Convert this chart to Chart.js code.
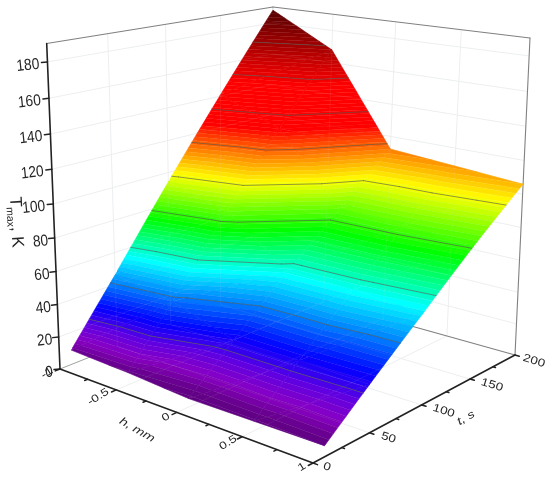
<!DOCTYPE html>
<html><head><meta charset="utf-8">
<style>html,body{margin:0;padding:0;background:#fff}canvas{display:block}</style>
<script src="https://cdn.jsdelivr.net/npm/chart.js@4"></script></head>
<body><canvas id="c" width="550" height="478"></canvas>
<script>
// ---- data ----
const hValues = [-1, -0.5, 0, 0.5, 1];
const tValues = [10, 50, 100, 150, 200];
const tempAtT10  = [9, 7.5, 5, 5.5, 6];
const tempAtT50  = [46, 40, 28, 28, 27];
const tempAtT100 = [94, 84, 57, 56, 53];
const tempAtT150 = [141, 126, 84, 83, 80];
const tempAtT200 = [188, 168, 112, 109, 106];
const tempRows = [tempAtT10, tempAtT50, tempAtT100, tempAtT150, tempAtT200];
const contourLevels = [24, 42, 60, 79, 97, 115, 133, 152, 170];
const zTicks = [0, 20, 40, 60, 80, 100, 120, 140, 160, 180];
const hMajor = [-1, -0.5, 0, 0.5, 1];
const hMinor = [-0.75, -0.25, 0.25, 0.75];
const tMajor = [0, 50, 100, 150, 200];
const tMinor = [25, 75, 125, 175];
const zMax = 190;
const colorStops = [[0,'#560078'],[8,'#640088'],[14,'#8800c4'],[21,'#6000e0'],[30,'#0000ff'],[42,'#0080ff'],[55,'#00ffff'],[75,'#00ff00'],[98,'#ffff00'],[125,'#ff0000'],[148,'#ff0000'],[170,'#a00000'],[190,'#4a0000']];
const bandStep = 2;

// ---- 3D projection ----
function homography(A,B,C,D){
  const dx1=B[0]-C[0],dx2=D[0]-C[0],sx=A[0]-B[0]+C[0]-D[0];
  const dy1=B[1]-C[1],dy2=D[1]-C[1],sy=A[1]-B[1]+C[1]-D[1];
  const det=dx1*dy2-dx2*dy1;
  const g=(sx*dy2-dx2*sy)/det,h=(dx1*sy-sx*dy1)/det;
  const a=B[0]-A[0]+g*B[0],b=D[0]-A[0]+h*D[0],d=B[1]-A[1]+g*B[1],e=D[1]-A[1]+h*D[1];
  return (u,v)=>{const q=1+g*u+h*v;return [(A[0]+a*u+b*v)/q,(A[1]+d*u+e*v)/q];};
}
const floorMap = homography([60,369],[313,463],[515,355],[268,286]);
const topMap   = homography([46.7,43.5],[310,82],[530,38],[273,7]);
function project(h,t,z){
  const u=(h+1)/2,v=t/200,w=z/zMax,s=w/(1+0.08*(1-w));
  const f=floorMap(u,v),p=topMap(u,v);
  return {x:f[0]+(p[0]-f[0])*s,y:f[1]+(p[1]-f[1])*s};
}
function hex(c){return [1,3,5].map(i=>parseInt(c.substr(i,2),16));}
function colorAt(T){
  for(let i=1;i<colorStops.length;i++){
    if(T<=colorStops[i][0]){
      const [a,ca]=colorStops[i-1],[b,cb]=colorStops[i],f=(T-a)/(b-a),x=hex(ca),y=hex(cb);
      return `rgb(${x.map((q,k)=>Math.round(q+(y[k]-q)*f)).join(',')})`;
    }
  }
  return colorStops[colorStops.length-1][1];
}
const datasets=[];
function addLine(points,color,width,order){
  datasets.push({data:points,showLine:true,borderColor:color,borderWidth:width,pointRadius:0,fill:false,tension:0,order,clip:false,borderCapStyle:'round',borderJoinStyle:'round'});
}
function addPoly(points,color,order){
  datasets.push({data:points,showLine:true,borderColor:color,backgroundColor:color,borderWidth:0.6,pointRadius:0,fill:'shape',tension:0,order,clip:false});
}
// surface triangles
const tris=[];
for(let j=0;j<tValues.length-1;j++)for(let i=0;i<hValues.length-1;i++){
  const n=(a,b)=>[hValues[a],tValues[b],tempRows[b][a]];
  const a=n(i,j),b=n(i+1,j),c=n(i+1,j+1),d=n(i,j+1);
  tris.push([a,b,c],[a,c,d]);
}
function clip(poly,level,keepAbove){
  const out=[];
  for(let i=0;i<poly.length;i++){
    const p=poly[i],q=poly[(i+1)%poly.length];
    const pin=keepAbove?p[2]>=level:p[2]<=level,qin=keepAbove?q[2]>=level:q[2]<=level;
    if(pin)out.push(p);
    if(pin!==qin){const f=(level-p[2])/(q[2]-p[2]);out.push([p[0]+(q[0]-p[0])*f,p[1]+(q[1]-p[1])*f,level]);}
  }
  return out;
}
tris.forEach(tr=>{
  const lo=Math.min(tr[0][2],tr[1][2],tr[2][2]),hi=Math.max(tr[0][2],tr[1][2],tr[2][2]);
  for(let b=Math.floor(lo/bandStep);b*bandStep<hi;b++){
    const a0=b*bandStep,a1=a0+bandStep;
    let poly=clip(clip(tr,a0,true),a1,false);
    if(poly.length>=3)addPoly(poly.map(p=>project(p[0],p[1],p[2])),colorAt(a0+bandStep/2),5);
  }
  contourLevels.forEach(L=>{
    const seg=[];
    for(let i=0;i<3;i++){
      const p=tr[i],q=tr[(i+1)%3];
      if((p[2]-L)*(q[2]-L)<0){const f=(L-p[2])/(q[2]-p[2]);seg.push(project(p[0]+(q[0]-p[0])*f,p[1]+(q[1]-p[1])*f,L));}
    }
    if(seg.length===2)addLine(seg,'rgba(80,90,80,0.7)',0.9,1);
  });
});
// grids: behind the surface and faintly through it
const gridC='#eff1f3', overC='rgba(215,215,215,0.09)';
function grid(a,b){addLine([project(...a),project(...b)],gridC,1,8);addLine([project(...a),project(...b)],overC,1,2);}
zTicks.slice(1).forEach(z=>{grid([-1,200,z],[1,200,z]);grid([-1,0,z],[-1,200,z]);});
hMajor.slice(1,4).forEach(h=>{grid([h,200,0],[h,200,zMax]);grid([h,0,0],[h,200,0]);});
tMajor.slice(1,4).forEach(t=>{grid([-1,t,0],[-1,t,zMax]);grid([-1,t,0],[1,t,0]);});
// box
const boxGray='#808080';
[[[-1,0,zMax],[-1,200,zMax]],[[-1,200,zMax],[1,200,zMax]],[[1,200,zMax],[1,200,0]],[[1,200,0],[-1,200,0]]]
  .forEach(e=>addLine([project(...e[0]),project(...e[1])],boxGray,1.1,7));
addLine([project(-1,200,0),project(-1,0,0)],'#9aa59a',1,7);
addLine([project(-1,200,0),project(-1,200,zMax)],'#ccd4da',1,7);
// axes
const axisC='#222';
addLine([project(-1,0,0),project(-1,0,zMax)],axisC,1.6,0);
addLine([project(-1,0,0),project(1,0,0)],axisC,1.6,0);
addLine([project(1,0,0),project(1,200,0)],axisC,1.6,0);
zTicks.forEach(z=>{const p=project(-1,0,z);addLine([p,{x:p.x-6,y:p.y+0.6}],axisC,1.5,0);});
hMajor.forEach(h=>addLine([project(h,0,0),project(h,-4,0)],axisC,1.5,0));
hMinor.forEach(h=>addLine([project(h,0,0),project(h,-2.5,0)],axisC,1.5,0));
tMajor.forEach(t=>addLine([project(1,t,0),project(1.03,t,0)],axisC,1.5,0));
tMinor.forEach(t=>addLine([project(1,t,0),project(1.018,t,0)],axisC,1.5,0));

function text(ctx,s,x,y,deg,font,sx,sy){
  ctx.save();ctx.translate(x,y);ctx.rotate(deg*Math.PI/180);ctx.scale(sx||1,sy||1);
  ctx.font=font;ctx.fillStyle='#262626';ctx.textAlign='center';ctx.textBaseline='middle';ctx.fillText(s,0,0);ctx.restore();
}
const hLabelOffset=[[-13,4],[-18,7],[-11,5],[-14,6],[-11,4]];
const tLabelOffset=[[14,4],[19,5],[22,6],[22,6],[19,6]];
const labelsPlugin={id:'labels3d',afterDraw(chart){
  const ctx=chart.ctx,X=chart.scales.x,Y=chart.scales.y;
  const at=(p,dx,dy)=>[X.getPixelForValue(p.x)+dx,Y.getPixelForValue(p.y)+dy];
  zTicks.forEach(z=>{
    const off=z>=100?-19.5:z>0?-14:-11;
    const q=at(project(-1,0,z),off,3.5);
    text(ctx,String(z),q[0],q[1],-6,'16px "Liberation Sans"',0.86,1);
  });
  hMajor.forEach((h,i)=>{
    const q=at(project(h,0,0),hLabelOffset[i][0],hLabelOffset[i][1]);
    text(ctx,String(h),q[0],q[1],-32,'13.5px "Liberation Sans"',1,0.78);
  });
  tMajor.forEach((t,i)=>{
    const q=at(project(1,t,0),tLabelOffset[i][0],tLabelOffset[i][1]);
    text(ctx,String(t),q[0],q[1],17,'13.5px "Liberation Sans"',1,0.82);
  });
  text(ctx,'h, mm',137,430,30,'italic 14px "Liberation Sans"',1,0.78);
  text(ctx,'t, s',466,418,-30,'italic 14px "Liberation Sans"',1,0.78);
  // vertical axis title with subscript, reading downward
  ctx.save();ctx.translate(10,197);ctx.rotate(87*Math.PI/180);
  ctx.fillStyle='#262626';ctx.textAlign='left';ctx.textBaseline='alphabetic';
  ctx.font='17px "Liberation Sans"';ctx.fillText('T',0,0);
  ctx.font='10.5px "Liberation Sans"';ctx.fillText('max',10,4);
  ctx.font='17px "Liberation Sans"';ctx.fillText(', K',30,0);
  ctx.restore();
}};
new Chart(document.getElementById('c'),{
  type:'scatter',
  data:{datasets},
  options:{responsive:false,animation:false,events:[],layout:{padding:0},
    plugins:{legend:{display:false},tooltip:{enabled:false}},
    scales:{x:{type:'linear',min:0,max:550,display:false},y:{type:'linear',min:0,max:478,reverse:true,display:false}}},
  plugins:[labelsPlugin]
});
</script></body></html>
